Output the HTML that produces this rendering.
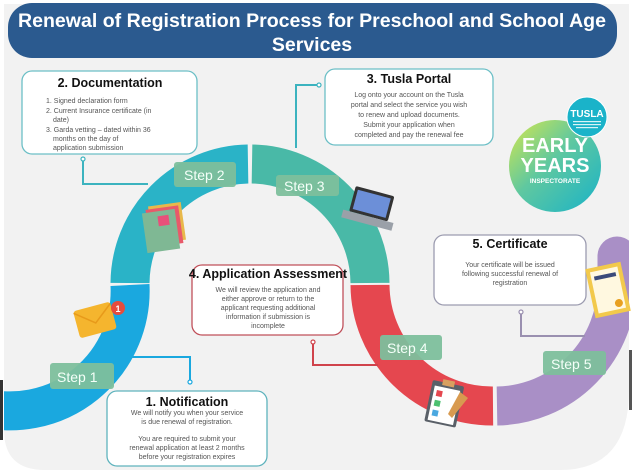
<!DOCTYPE html>
<html><head><meta charset="utf-8"><style>
html,body{margin:0;padding:0;background:#fff;}
body{width:633px;height:473px;overflow:hidden;position:relative;font-family:"Liberation Sans",sans-serif;}
svg{position:absolute;left:0;top:0;}
</style></head><body>
<svg width="633" height="473" viewBox="0 0 633 473" xmlns="http://www.w3.org/2000/svg" font-family="Liberation Sans, sans-serif">
<defs>
<clipPath id="card"><path d="M4 4 H629 V390 Q629 470 560 470 H45 Q4 470 4 430 Z"/></clipPath>
<linearGradient id="lg" x1="0" y1="0" x2="1" y2="1"><stop offset="0" stop-color="#d8e84a"/><stop offset="0.45" stop-color="#5fc8a0"/><stop offset="1" stop-color="#18b2c8"/></linearGradient>
</defs>
<path d="M4 4 H629 V390 Q629 470 560 470 H45 Q4 470 4 430 Z" fill="#f2f2f2"/>
<rect x="0" y="380" width="3" height="60" fill="#333"/>
<rect x="629" y="350" width="3" height="60" fill="#555"/>
<g clip-path="url(#card)" fill="none" stroke-width="39">
<path d="M130 285 A120 120 0 0 1 -20 407" stroke="#1aa8df"/>
<path d="M130 283 A120 120 0 0 1 248 164" stroke="#2ab3c7"/>
<path d="M252 164 A120 120 0 0 1 370 283" stroke="#49b9a7"/>
<path d="M370 285 A122 122 0 0 0 493 406" stroke="#e5474f"/>
<path d="M497 406 A122 122 0 0 0 617 284 V256" stroke="#a98fc6"/>
<circle cx="617" cy="256" r="19.5" fill="#a98fc6" stroke="none"/>
</g>
<rect x="8" y="3" width="609" height="55" rx="24" fill="#2b5a8f"/>
<text x="312" y="27" font-size="19.5" font-weight="bold" fill="#fff" text-anchor="middle" textLength="588" lengthAdjust="spacingAndGlyphs">Renewal of Registration Process for Preschool and School Age</text>
<text x="312" y="51" font-size="19.5" font-weight="bold" fill="#fff" text-anchor="middle">Services</text>
<g fill="none" stroke-width="2">
<path d="M83 159 V184 H148" stroke="#3cb3bf"/><circle cx="83" cy="159" r="2" fill="#fff" stroke="#3cb3bf" stroke-width="1.2"/>
<path d="M318 85 H296 V148" stroke="#3cb3bf"/><circle cx="319" cy="85" r="2" fill="#fff" stroke="#3cb3bf" stroke-width="1.2"/>
<path d="M190 381 V357 H128" stroke="#1aa8df"/><circle cx="190" cy="382" r="2" fill="#fff" stroke="#1aa8df" stroke-width="1.2"/>
<path d="M313 342 V365 H378" stroke="#d0434c"/><circle cx="313" cy="342" r="2" fill="#fff" stroke="#d0434c" stroke-width="1.2"/>
<path d="M521 312 V336 H585" stroke="#9a90b0"/><circle cx="521" cy="312" r="2" fill="#fff" stroke="#9a90b0" stroke-width="1.2"/>
</g>
<g stroke-width="1.3" fill="#fff">
<rect x="22" y="71" width="175" height="83" rx="10" stroke="#6cbfc6"/>
<rect x="325" y="69" width="168" height="76" rx="10" stroke="#6cbfc6"/>
<rect x="434" y="235" width="152" height="70" rx="10" stroke="#9c9cb0"/>
<rect x="192" y="265" width="151" height="70" rx="10" stroke="#c0505a"/>
<rect x="107" y="391" width="160" height="75" rx="10" stroke="#5fb3bd"/>
</g>
<g font-weight="bold" fill="#111" text-anchor="middle" font-size="12.5">
<text x="110" y="87">2. Documentation</text>
<text x="409" y="83">3. Tusla Portal</text>
<text x="510" y="248">5. Certificate</text>
<text x="268" y="278">4. Application Assessment</text>
<text x="187" y="406">1. Notification</text>
</g>
<g font-size="7" fill="#555">
<text x="46" y="103">1. Signed declaration form</text>
<text x="46" y="113">2. Current Insurance certificate (in</text>
<text x="53" y="122">date)</text>
<text x="46" y="132">3. Garda vetting – dated within 36</text>
<text x="53" y="141">months on the day of</text>
<text x="53" y="150">application submission</text>
</g>
<g font-size="7" fill="#555" text-anchor="middle">
<text x="409" y="97">Log onto your account on the Tusla</text>
<text x="409" y="107">portal and select the service you wish</text>
<text x="409" y="117">to renew and upload documents.</text>
<text x="409" y="127">Submit your application when</text>
<text x="409" y="137">completed and pay the renewal fee</text>
<text x="510" y="267">Your certificate will be issued</text>
<text x="510" y="276">following successful renewal of</text>
<text x="510" y="285">registration</text>
<text x="268" y="292">We will review the application and</text>
<text x="268" y="301">either approve or return to the</text>
<text x="268" y="310">applicant requesting additional</text>
<text x="268" y="319">information if submission is</text>
<text x="268" y="328">incomplete</text>
<text x="187" y="415">We will notify you when your service</text>
<text x="187" y="424">is due renewal of registration.</text>
<text x="187" y="441">You are required to submit your</text>
<text x="187" y="450">renewal application at least 2 months</text>
<text x="187" y="459">before your registration expires</text>
</g>
<g fill="#7dbf9c" opacity="0.95">
<rect x="50" y="363" width="64" height="26" rx="3"/>
<rect x="174" y="162" width="62" height="25" rx="3"/>
<rect x="276" y="175" width="63" height="21" rx="3"/>
<rect x="380" y="335" width="62" height="25" rx="3"/>
<rect x="543" y="351" width="63" height="24" rx="3"/>
</g>
<g fill="#f4fff8" font-size="14">
<text x="57" y="382">Step 1</text>
<text x="184" y="180">Step 2</text>
<text x="284" y="191">Step 3</text>
<text x="387" y="353">Step 4</text>
<text x="551" y="369">Step 5</text>
</g>
<circle cx="555" cy="166" r="46" fill="url(#lg)"/>
<circle cx="587" cy="117" r="20" fill="#1ab3c9" stroke="#fff" stroke-width="1"/>
<text x="587" y="117" font-size="10" font-weight="bold" fill="#fff" text-anchor="middle">TUSLA</text>
<rect x="573" y="121" width="28" height="1.2" fill="#d8f3f7"/><rect x="573" y="124" width="28" height="1.2" fill="#d8f3f7"/><rect x="576" y="127" width="22" height="1.2" fill="#d8f3f7"/>
<text x="555" y="152" font-size="20" font-weight="bold" fill="#fff" text-anchor="middle">EARLY</text>
<text x="555" y="172" font-size="20" font-weight="bold" fill="#fff" text-anchor="middle">YEARS</text>
<text x="555" y="183" font-size="6.5" font-weight="bold" fill="#fff" text-anchor="middle">INSPECTORATE</text>
<g transform="rotate(-8 160 220)">
<rect x="150" y="205" width="33" height="38" fill="#e8b84a"/>
<rect x="147" y="208" width="33" height="38" fill="#e85a6a"/>
<rect x="143" y="211" width="33" height="40" fill="#7fb894"/>
<rect x="158" y="216" width="11" height="10" fill="#e8507a"/>
</g>
<g transform="rotate(-15 95 320)">
<rect x="76" y="306" width="38" height="28" rx="3" fill="#f5b52e"/>
<path d="M76 308 L95 323 L114 308" fill="none" stroke="#e89a1a" stroke-width="1.5"/>
</g>
<circle cx="118" cy="308" r="7" fill="#e74c3c"/>
<text x="118" y="312" font-size="9" font-weight="bold" fill="#fff" text-anchor="middle">1</text>
<g transform="rotate(15 368 210)">
<rect x="350" y="190" width="40" height="26" rx="2" fill="#333"/>
<rect x="353" y="193" width="34" height="20" fill="#6c8fd8"/>
<rect x="344" y="216" width="52" height="8" fill="#9aa0a8"/>
</g>
<g transform="rotate(12 445 405)">
<rect x="428" y="383" width="32" height="42" rx="2" fill="#5a6068"/>
<rect x="431" y="388" width="26" height="35" fill="#fff"/>
<rect x="438" y="380" width="12" height="6" fill="#d8a060"/>
<rect x="434" y="392" width="6" height="6" fill="#e5474f"/>
<rect x="434" y="402" width="6" height="6" fill="#4cc070"/>
<rect x="434" y="412" width="6" height="6" fill="#4aa8e0"/>
</g>
<path d="M460 392 L468 398 L452 418 L448 414 Z" fill="#d89a50"/>
<g transform="rotate(-12 608 290)">
<rect x="590" y="265" width="36" height="50" fill="#f2c94c"/>
<rect x="594" y="269" width="28" height="42" fill="#fff8e0"/>
<rect x="597" y="274" width="22" height="4" fill="#3a4a7a"/>
<circle cx="616" cy="305" r="4" fill="#e8a020"/>
</g>
</svg>
</body></html>
